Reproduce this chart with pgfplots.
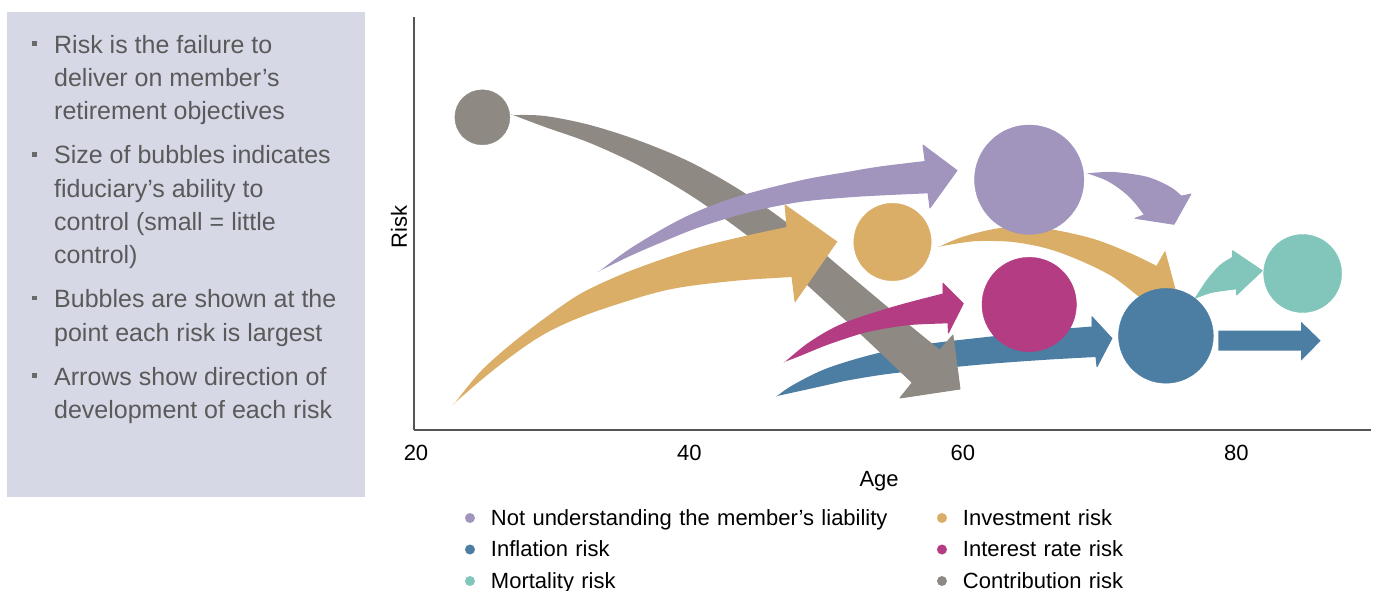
\documentclass[border=0pt]{standalone}
\usepackage{fontspec}
\setmainfont{Liberation Sans}
\usepackage{pgfplots}
\pgfplotsset{compat=1.18}

\definecolor{cpurple}{HTML}{A194BD}
\definecolor{cgrey}{HTML}{8E8A83}
\definecolor{cgold}{HTML}{DBAE68}
\definecolor{cmagenta}{HTML}{B43C82}
\definecolor{cblue}{HTML}{4C7DA3}
\definecolor{cteal}{HTML}{82C6BB}
\definecolor{panelbg}{HTML}{D6D8E6}
\definecolor{paneltext}{HTML}{5A5A5A}
\definecolor{bulletgrey}{HTML}{6A6A6A}
\definecolor{axisgrey}{HTML}{555555}

% arrow shafts are smooth outlines (corner points written twice stay sharp),
% arrow heads are plain polygons with a thin stroke that closes the joint
\pgfplotsset{
  dotlegend/.style={legend image code/.code={%
    \path[draw=none,fill=none] (0pt,-5pt) rectangle (17pt,5pt);
    \fill[draw=none] (8.5pt,0pt) circle (5pt);}},
  shaft/.style={draw=none, forget plot, smooth, tension=0.55, fill=#1},
  arrowhead/.style={draw=#1, line width=0.9pt, line join=round, forget plot, fill=#1},
}

\newcommand{\bul}{\llap{\textcolor{bulletgrey}{\rule[7.3pt]{4.5pt}{4.5pt}}\hspace{17.3pt}}}

\begin{document}
\begin{tikzpicture}
\path[use as bounding box] (-414pt,-160pt) rectangle (965pt,430pt);

% side panel with the reading notes
\fill[panelbg] (-407pt,-67pt) rectangle (-49pt,418pt);
\node[anchor=base west, inner sep=0pt, align=left, text=paneltext,
      font=\fontsize{25}{33.3}\selectfont] at (-360pt,11.7pt)
{\bul Risk is the failure to\\deliver on member’s\\retirement objectives\\[10.7pt]%
\bul Size of bubbles indicates\\fiduciary’s ability to\\control (small = little\\control)\\[10.7pt]%
\bul Bubbles are shown at the\\point each risk is largest\\[10.7pt]%
\bul Arrows show direction of\\development of each risk};

\begin{axis}[
  at={(0pt,0pt)}, anchor=south west,
  width=957pt, height=413pt, scale only axis,
  xmin=20, xmax=90, ymin=0, ymax=413,
  axis x line*=bottom, axis y line*=left,
  axis line style={draw=axisgrey, line width=1.7pt, -},
  xtick={20,40,60,80}, ytick=\empty,
  major tick length=0pt,
  /pgf/number format/assume math mode=true,
  xticklabel style={anchor=north, inner sep=0pt, yshift=-15pt, xshift=2pt,
                    font=\fontsize{22}{26}\selectfont},
  xlabel={Age}, ylabel={Risk},
  xlabel style={at={(axis description cs:0.486,-0.0993)}, anchor=north,
                inner sep=0pt, font=\fontsize{22}{26}\selectfont},
  ylabel style={at={(axis description cs:-0.007,0.4915)}, anchor=south,
                inner sep=0pt, font=\fontsize{22}{26}\selectfont},
  clip=false,
  legend columns=2,
  legend cell align=left,
  legend style={at={(axis description cs:0.0496,-0.1913)}, anchor=north west,
    draw=none, fill=none, inner sep=0pt, outer sep=0pt,
    font=\fontsize{22}{26}\selectfont, row sep=13.5pt,
    /tikz/every odd column/.append style={column sep=12.5pt},
    /tikz/every even column/.append style={column sep=0pt,
       nodes={inner sep=0pt, text width=442.5pt, text height=16pt, text depth=2pt}}},
]

% ---- development arrows ----
% inflation risk, long arrow
\addplot[shaft=cblue] coordinates {(46.55,34) (46.55,34)
 (47.72,45) (50.21,61.7) (53.87,76.7) (57.52,86) (62.86,94.5) (66.52,100)
 (69.59,103.5) (69.59,103.5) (69.88,73) (69.88,73)
 (66.52,70.5) (62.86,67) (59.94,63.5) (55.04,56.7) (51.89,50) (50.21,45) (48.23,39)
 (46.55,34) (46.55,34)};
\addplot[arrowhead=cblue] coordinates {(69.59,103.5) (69.59,113.3) (71.05,91.7) (69.96,63.3) (69.88,73)} --cycle;
% inflation risk, after the peak
\addplot[draw=none, forget plot, fill=cblue] coordinates {(78.83,99.3) (84.88,99.3) (84.88,108.3)
 (86.32,89.3) (84.88,69.3) (84.88,79.3) (78.83,79.3)} --cycle;
% contribution risk
\addplot[shaft=cgrey] coordinates {(27.24,315) (27.24,315)
 (29.58,314) (32.87,305) (36.53,289) (40.19,268) (43.84,240) (47.50,205) (51.16,163) (54.82,121)
 (58.47,80) (58.47,80) (56.42,47) (56.42,47)
 (53.35,87) (50.43,124) (47.50,160) (43.84,200) (40.19,235) (36.53,264) (32.87,287) (29.58,303)
 (27.24,315) (27.24,315)};
\addplot[arrowhead=cgrey] coordinates {(58.47,80) (59.42,95) (59.94,41) (55.55,32) (56.42,47)} --cycle;
% interest rate risk
\addplot[shaft=cmagenta] coordinates {(47.14,68.3) (47.14,68.3)
 (48.96,88.3) (51.38,106.7) (55.04,123.3)
 (58.69,136.5) (58.69,136.5) (59.06,106.7) (59.06,106.7)
 (56.28,105) (54.08,100.5) (52.62,96) (50.21,85) (48.23,74)
 (47.14,68.3) (47.14,68.3)};
\addplot[arrowhead=cmagenta] coordinates {(58.69,136.5) (58.69,146.7) (60.18,126.5) (59.09,97) (59.06,106.7)} --cycle;
% investment risk, before the peak
\addplot[shaft=cgold] coordinates {(23.00,27.3) (23.00,27.3)
 (24.83,58) (27.02,85) (29.58,112) (32.14,136) (35.07,155) (37.99,170) (40.92,183) (44.21,194)
 (47.28,203) (47.28,203) (47.65,153) (47.65,153)
 (43.33,149) (38.50,140) (33.60,120) (30.68,104) (28.70,89) (26.66,69) (24.83,49)
 (23.00,27.3) (23.00,27.3)};
\addplot[arrowhead=cgold] coordinates {(47.28,203) (47.14,225) (50.92,188.3) (47.87,128.3) (47.65,153)} --cycle;
% liability risk, before the peak
\addplot[shaft=cpurple] coordinates {(33.60,159.3) (33.60,159.3)
 (36.02,183.3) (39.68,212) (43.33,232) (48.23,249.5) (51.67,258) (54.08,263.5)
 (57.38,269) (57.38,269) (57.60,236.7) (57.60,236.7)
 (54.08,234.5) (51.67,232.5) (48.23,228) (44.58,218) (40.92,203) (37.99,187) (35.80,174)
 (33.60,159.3) (33.60,159.3)};
\addplot[arrowhead=cpurple] coordinates {(57.38,269) (57.23,285) (59.72,259.5) (57.74,222) (57.60,236.7)} --cycle;
% investment risk, after the peak
\addplot[shaft=cgold] coordinates {(58.40,183.3) (58.40,183.3)
 (60.16,193.3) (62.64,201.5) (65.06,203.5) (67.47,198.5) (69.96,190) (72.37,177)
 (74.34,164) (74.34,164) (73.32,130) (73.32,130)
 (71.13,153) (68.71,169.5) (66.30,181.5) (63.81,188) (61.40,189) (59.94,187)
 (58.40,183.3) (58.40,183.3)};
\addplot[arrowhead=cgold] coordinates {(74.34,164) (74.93,178.3) (75.88,130) (72.74,112) (73.32,130)} --cycle;
% liability risk, after the peak
\addplot[shaft=cpurple] coordinates {(69.25,256.7) (69.25,256.7)
 (71.15,258) (73.59,253.3) (75.30,243.3)
 (76.17,234) (76.17,234) (73.39,215) (73.39,215)
 (72.74,226.7) (71.88,238.3) (70.67,249.3)
 (69.25,256.7) (69.25,256.7)};
\addplot[arrowhead=cpurple] coordinates {(76.17,234) (76.83,236) (75.59,205.7) (72.74,211.7) (73.39,215)} --cycle;
% mortality risk
\addplot[shaft=cteal] coordinates {(77.07,131) (77.07,131)
 (77.98,150) (78.95,165)
 (79.88,173.3) (79.88,173.3) (80.17,140.7) (80.17,140.7)
 (79.19,139) (78.22,136.7)
 (77.07,131) (77.07,131)};
\addplot[arrowhead=cteal] coordinates {(79.88,173.3) (79.88,179.3) (82.05,159.3) (80.17,135) (80.17,140.7)} --cycle;

% ---- bubbles: age at which each risk peaks, size = ability to control ----
\addplot[forget plot, only marks, mark=*, mark size=38.7pt, color=cgold] coordinates {(55,188)};
\addplot[forget plot, only marks, mark=*, mark size=54.7pt, color=cpurple] coordinates {(65,250.3)};
\addplot[forget plot, only marks, mark=*, mark size=47.2pt, color=cmagenta] coordinates {(65,125.5)};
\addplot[forget plot, only marks, mark=*, mark size=47.4pt, color=cblue] coordinates {(75,94.2)};
\addplot[forget plot, only marks, mark=*, mark size=39pt, color=cteal] coordinates {(85,156.5)};
\addplot[forget plot, only marks, mark=*, mark size=27.5pt, color=cgrey] coordinates {(25,312.7)};

\addlegendimage{dotlegend, color=cpurple}
\addlegendentry{Not understanding the member’s liability}
\addlegendimage{dotlegend, color=cgold}
\addlegendentry{Investment risk}
\addlegendimage{dotlegend, color=cblue}
\addlegendentry{Inflation risk}
\addlegendimage{dotlegend, color=cmagenta}
\addlegendentry{Interest rate risk}
\addlegendimage{dotlegend, color=cteal}
\addlegendentry{Mortality risk}
\addlegendimage{dotlegend, color=cgrey}
\addlegendentry{Contribution risk}
\end{axis}
\end{tikzpicture}
\end{document}
